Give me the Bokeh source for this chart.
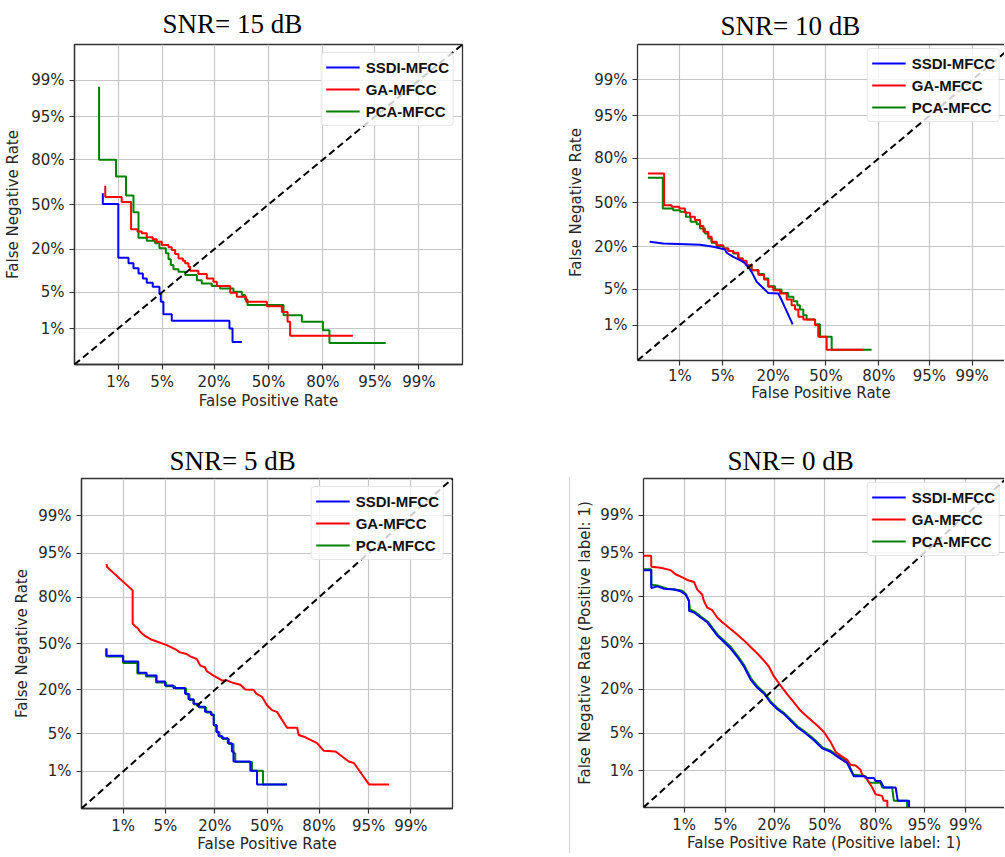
import math
from bokeh.plotting import figure
from bokeh.layouts import row, column, Spacer
from bokeh.models import FixedTicker, Legend, LegendItem, Slope, LinearAxis
from bokeh.embed import file_html
from bokeh.resources import INLINE

# ---------------- axis ticks (rates) ----------------
TICK_RATES = [0.01, 0.05, 0.20, 0.50, 0.80, 0.95, 0.99]
TICK_LABELS = ["1%", "5%", "20%", "50%", "80%", "95%", "99%"]

SERIES_NAMES = ["SSDI-MFCC", "GA-MFCC", "PCA-MFCC"]
SERIES_COLORS = ["#0000ff", "#ff0000", "#008000"]

# ---------------- SNR = 15 dB (staircase corners, %) ----------------
snr15_ssdi_fpr = [0.52, 1.01, 1.52, 1.84, 2.22, 2.6, 2.99, 3.67, 4.59, 4.79, 5.21, 6.73, 27.3, 28.9, 34.0]
snr15_ssdi_fnr = [58.4, 50.3, 15.9, 13.5, 11.6, 9.8, 8.3, 7.1, 6.15, 4.65, 3.41, 1.99, 1.46, 1.0, 0.50]
snr15_ga_fpr = [0.58, 1.16, 1.68, 2.13, 2.5, 2.99, 3.67, 4.2, 4.95, 6.1, 6.73, 7.44, 8.2, 9.26, 9.87,
                10.8, 11.3, 13.9, 17.0, 19.7, 21.2, 27.7, 31.2, 36.5, 49.0, 58.2, 61.6, 63.1, 90.4]
snr15_ga_fnr = [63.7, 55.5, 51.8, 32.1, 30.6, 29.5, 27.0, 25.7, 24.3, 22.4, 21.1, 19.7, 17.7, 15.6, 14.6,
                13.5, 12.2, 10.7, 9.6, 8.3, 7.4, 6.3, 4.9, 4.2, 3.41, 2.83, 2.2, 1.39, 0.69]
snr15_pca_fpr = [0.44, 0.92, 1.38, 1.84, 2.22, 2.99, 3.98, 4.59, 5.62, 6.1, 6.54, 7.08, 8.2, 9.87,
                 13.4, 15.1, 19.0, 22.7, 29.4, 34.0, 35.9, 37.3, 59.2, 69.7, 80.0, 82.7, 96.5]
snr15_pca_fnr = [98.63, 79.9, 70.1, 56.7, 44.3, 26.7, 24.9, 23.4, 20.6, 18.0, 15.2, 12.8, 11.2, 10.4,
                 9.3, 7.8, 6.95, 6.3, 5.78, 5.1, 4.47, 3.75, 2.96, 1.9, 1.39, 0.92, 0.47]

# ---------------- SNR = 10 dB ----------------
snr10_ssdi_fpr = [0.25, 0.48, 2.25, 3.65, 5.4, 5.7, 7.0, 9.4, 10.8, 11.8, 13.5, 17.9, 22.4, 24.0, 29.8]
snr10_ssdi_fnr = [22.8, 21.8, 21.1, 20.0, 18.6, 17.0, 15.1, 13.0, 11.1, 9.4, 6.6, 4.3, 4.2, 3.2, 1.03]
snr10_ga_fpr = [0.23, 0.50, 0.70, 0.98, 1.24, 1.52, 1.85, 2.25, 2.55, 3.05, 3.44, 4.09, 5.11, 6.0, 7.0,
                8.15, 9.24, 10.3, 11.8, 14.1, 16.2, 17.9, 20.1, 23.2, 26.6, 29.2, 31.1, 33.0, 35.9,
                43.1, 45.1, 50.4, 72.4]
snr10_ga_fnr = [70.9, 70.9, 48.0, 46.7, 45.5, 42.2, 39.3, 36.9, 32.7, 28.9, 25.7, 22.8, 20.9, 19.1, 17.9,
                17.0, 14.4, 13.4, 11.7, 9.94, 8.4, 7.2, 5.47, 4.8, 4.2, 3.27, 2.56, 2.11, 1.5,
                1.31, 0.99, 0.54, 0.26]
snr10_pca_fpr = [0.23, 0.47, 0.75, 1.01, 1.29, 1.56, 1.98, 2.25, 2.7, 3.05, 3.44, 4.09, 5.11, 6.0, 7.0,
                 8.15, 9.24, 10.3, 11.8, 14.1, 16.2, 17.9, 20.9, 24.0, 27.4, 30.2, 32.4, 33.9, 35.9,
                 37.9, 43.1, 46.2, 53.6, 76.6]
snr10_pca_fnr = [68.0, 68.0, 45.5, 44.2, 43.0, 39.3, 35.7, 34.0, 31.1, 27.8, 24.7, 22.2, 20.4, 19.1, 17.9,
                 16.6, 14.4, 13.0, 11.5, 9.94, 8.7, 7.45, 5.6, 4.93, 4.3, 3.66, 3.05, 2.56, 2.11,
                 1.62, 1.31, 1.04, 0.54, 0.26]

# ---------------- SNR = 5 dB ----------------
snr5_ssdi_fpr = [0.47, 1.0, 1.87, 2.58, 3.71, 4.95, 6.5, 9.26, 10.2, 11.7, 13.4, 15.8, 18.2, 19.4, 20.6,
                 21.6, 23.3, 26.3, 28.5, 29.4, 39.4, 43.6, 62.7]
snr5_ssdi_fnr = [46.4, 41.2, 37.1, 29.7, 28.0, 24.5, 22.3, 20.9, 18.1, 15.5, 13.7, 12.5, 10.7, 9.84, 6.9,
                 5.45, 4.64, 4.24, 3.49, 2.48, 1.6, 1.04, 0.52]
snr5_ga_fpr = [0.47, 0.49, 1.49, 1.49, 1.63, 1.87, 1.99, 2.42, 2.99, 5.24, 7.07, 8.0, 9.7, 10.7, 12.8,
               14.0, 15.8, 16.5, 19.4, 23.3, 25.8, 29.4, 33.3, 36.3, 41.4, 43.1, 46.8, 50.0, 53.2,
               56.4, 62.7, 68.7, 69.6, 73.3, 79.1, 82.1, 86.6, 90.7, 92.0, 95.05, 97.58]
snr5_ga_fnr = [92.6, 91.7, 83.3, 64.1, 62.5, 60.6, 58.6, 55.5, 53.1, 48.8, 45.5, 43.6, 42.4, 40.7, 38.9,
               34.4, 33.3, 30.7, 28.0, 25.1, 25.1, 23.6, 22.7, 20.2, 20.0, 18.1, 16.6, 13.1, 11.3,
               10.7, 6.29, 6.29, 4.82, 4.41, 3.49, 2.55, 2.48, 1.6, 1.49, 0.52, 0.52]
snr5_pca_fpr = [0.47, 1.0, 1.8, 2.51, 3.63, 5.12, 6.85, 9.53, 10.5, 11.9, 13.6, 16.3, 18.5, 19.6, 20.9,
                22.1, 23.8, 26.9, 29.4, 30.4, 40.4, 47.4, 62.7]
snr5_pca_fnr = [46.4, 40.7, 36.2, 29.3, 27.4, 23.9, 21.9, 20.6, 17.8, 15.2, 13.5, 12.2, 10.5, 9.64, 6.75,
                5.31, 4.52, 4.14, 3.4, 2.31, 1.56, 1.04, 0.52]

# ---------------- SNR = 0 dB ----------------
snr0_ssdi_fpr = [0.138, 0.204, 0.204, 0.28, 0.39, 0.626, 0.85, 1.06, 1.23, 1.23, 1.52, 1.99, 2.58, 3.12,
                 3.75, 4.75, 5.94, 7.35, 9.02, 10.95, 13.2, 15.65, 18.4, 21.5, 24.9, 28.5, 32.3, 36.4,
                 42.8, 48.2, 53.7, 58.1, 64.4, 68.4, 74.1, 75.8, 79.1, 79.9, 82.1, 83.5, 87.9, 88.6,
                 91.8, 91.8]
snr0_ssdi_fnr = [90.8, 90.8, 84.2, 84.9, 83.9, 83.5, 82.7, 81.2, 77.8, 72.1, 71.1, 67.9, 64.7, 60.1,
                 55.4, 50.7, 46.0, 40.1, 33.4, 25.2, 20.7, 17.9, 13.9, 11.4, 9.75, 7.85, 6.25, 5.22,
                 3.81, 2.73, 2.37, 1.91, 1.42, 0.755, 0.755, 0.695, 0.695, 0.59, 0.59, 0.42, 0.42, 0.20,
                 0.20, 0.136]
snr0_ga_fpr = [0.138, 0.204, 0.204, 0.33, 0.535, 0.675, 0.92, 1.14, 1.52, 1.74, 2.12, 2.27, 2.58, 3.12,
               3.75, 4.48, 5.94, 7.35, 9.02, 10.95, 13.2, 15.65, 17.7, 19.96, 23.2, 26.7, 30.4, 34.4,
               39.6, 44.95, 49.3, 53.7, 57.0, 60.2, 64.4, 66.4, 69.4, 72.2, 73.1, 75.8, 78.3, 79.9,
               82.8, 83.5, 84.9, 84.9]
snr0_ga_fnr = [94.4, 94.4, 91.8, 91.5, 90.8, 89.5, 88.4, 87.5, 86.7, 83.5, 81.2, 77.8, 74.1, 72.5,
               67.9, 64.7, 60.1, 56.2, 51.9, 47.1, 42.4, 37.4, 33.4, 27.1, 21.9, 17.4, 13.9, 10.8,
               8.49, 6.63, 5.22, 3.57, 2.37, 2.0, 1.65, 1.32, 1.28, 1.04, 0.82, 0.64, 0.42, 0.29,
               0.265, 0.20, 0.20, 0.136]
snr0_pca_fpr = [0.138, 0.204, 0.204, 0.28, 0.457, 0.675, 0.92, 1.09, 1.23, 1.28, 1.56, 2.04, 2.65, 3.2,
                3.84, 4.86, 6.07, 7.51, 9.2, 11.2, 13.4, 15.9, 18.7, 21.9, 25.2, 28.9, 32.7, 36.8,
                43.2, 48.7, 54.2, 58.5, 64.8, 68.0, 74.9, 76.7, 82.1, 82.8, 86.7, 87.3, 91.3, 91.3]
snr0_pca_fnr = [91.1, 91.1, 85.6, 85.3, 83.9, 83.5, 83.0, 81.2, 77.8, 73.1, 71.7, 68.4, 65.1, 60.6,
                55.9, 51.4, 46.7, 40.6, 33.8, 25.6, 21.2, 18.2, 14.1, 11.6, 9.96, 8.03, 6.4, 5.35,
                3.91, 2.81, 2.44, 1.97, 1.47, 0.82, 0.755, 0.54, 0.54, 0.42, 0.42, 0.20, 0.20, 0.136]


# ---------------- helpers ----------------
def ppf(p):
    """Inverse of the standard normal CDF (Acklam's approximation)."""
    a = [-3.969683028665376e+01, 2.209460984245205e+02, -2.759285104469687e+02,
         1.383577518672690e+02, -3.066479806614716e+01, 2.506628277459239e+00]
    b = [-5.447609879822406e+01, 1.615858368580409e+02, -1.556989798598866e+02,
         6.680131188771972e+01, -1.328068155288572e+01]
    c = [-7.784894002430293e-03, -3.223964580411365e-01, -2.400758277161838e+00,
         -2.549671361988130e+00, 4.374664141464968e+00, 2.938163982698783e+00]
    d = [7.784695709041462e-03, 3.224671290700398e-01, 2.445134137142996e+00,
         3.754408661907416e+00]
    plow = 0.02425
    if p < plow:
        q = math.sqrt(-2 * math.log(p))
        return (((((c[0]*q + c[1])*q + c[2])*q + c[3])*q + c[4])*q + c[5]) / \
               ((((d[0]*q + d[1])*q + d[2])*q + d[3])*q + 1)
    if p > 1 - plow:
        q = math.sqrt(-2 * math.log(1 - p))
        return -(((((c[0]*q + c[1])*q + c[2])*q + c[3])*q + c[4])*q + c[5]) / \
                ((((d[0]*q + d[1])*q + d[2])*q + d[3])*q + 1)
    q = p - 0.5
    r = q * q
    return (((((a[0]*r + a[1])*r + a[2])*r + a[3])*r + a[4])*r + a[5])*q / \
           (((((b[0]*r + b[1])*r + b[2])*r + b[3])*r + b[4])*r + 1)


def dev(percents):
    return [ppf(v / 100.0) for v in percents]


def staircase(xs, ys):
    px, py = [], []
    for i in range(len(xs)):
        px.append(xs[i]); py.append(ys[i])
        if i + 1 < len(xs):
            px.append(xs[i]); py.append(ys[i + 1])
    return px, py


TICKS = [round(ppf(r), 6) for r in TICK_RATES]
OVERRIDES = {t: l for t, l in zip(TICKS, TICK_LABELS)}

FRAME_COLOR = "#333333"
TEXT_COLOR = "#262626"
GRID_COLOR = "#c6c6c6"


def style_axis(ax, label, label_standoff, tick_standoff):
    ax.ticker = FixedTicker(ticks=TICKS)
    ax.major_label_overrides = OVERRIDES
    ax.axis_label = label
    ax.axis_label_text_font = "DejaVu Sans"
    ax.axis_label_text_font_size = "15px"
    ax.axis_label_text_font_style = "normal"
    ax.axis_label_text_color = TEXT_COLOR
    ax.axis_label_standoff = label_standoff
    ax.major_label_text_font = "DejaVu Sans"
    ax.major_label_text_font_size = "15px"
    ax.major_label_text_color = TEXT_COLOR
    ax.major_label_standoff = tick_standoff
    ax.major_tick_out = 5
    ax.major_tick_in = 0
    ax.major_tick_line_color = FRAME_COLOR
    ax.major_tick_line_width = 1.2
    ax.minor_tick_line_color = None
    ax.axis_line_color = FRAME_COLOR
    ax.axis_line_width = 1.3


def make_panel(spec):
    (title, curves, fw, fh, bl, br, bt, bb, x_end, t_off, t_stand,
     ylabel, xlabel, ylab_so, xlab_so, xtick_so, legend_margin, clipped) = spec
    p = figure(frame_width=fw, frame_height=fh, x_range=(-3, x_end), y_range=(-3, 3),
               output_backend="svg", toolbar_location=None,
               min_border_left=bl, min_border_right=br,
               min_border_top=bt, min_border_bottom=bb)
    p.background_fill_color = "white"
    p.border_fill_color = "white"

    p.title.text = title
    p.title.text_font = "Liberation Serif"
    p.title.text_font_size = "27px"
    p.title.text_font_style = "normal"
    p.title.text_color = "black"
    p.title.align = "left"
    p.title.offset = t_off
    p.title.standoff = t_stand

    style_axis(p.xaxis[0], xlabel, xlab_so, xtick_so)
    style_axis(p.yaxis[0], ylabel, ylab_so, 5)
    p.xgrid.ticker = FixedTicker(ticks=TICKS)
    p.ygrid.ticker = FixedTicker(ticks=TICKS)
    p.grid.grid_line_color = GRID_COLOR
    p.grid.grid_line_width = 1.2

    if clipped:
        # the right-hand edge of this panel is cut by the picture border
        p.outline_line_color = None
        top = LinearAxis(ticker=FixedTicker(ticks=[]), major_tick_out=0, major_tick_in=0,
                         minor_tick_out=0, minor_tick_in=0, major_label_standoff=0,
                         major_label_text_font_size="0px",
                         axis_line_color=FRAME_COLOR, axis_line_width=1.3)
        p.add_layout(top, "above")
    else:
        p.outline_line_color = FRAME_COLOR
        p.outline_line_width = 1.3

    # chance line FPR = FNR
    p.add_layout(Slope(gradient=1, y_intercept=0, line_color="black",
                       line_width=2, line_dash="7 4"))

    renderers = {}
    for name in ["PCA-MFCC", "GA-MFCC", "SSDI-MFCC"]:
        fpr, fnr, kind = curves[name]
        if kind == "step":
            xs, ys = staircase(fpr, fnr)
        else:
            xs, ys = fpr, fnr
        color = SERIES_COLORS[SERIES_NAMES.index(name)]
        renderers[name] = p.line(x=dev(xs), y=dev(ys), line_color=color, line_width=2)

    legend = Legend(items=[LegendItem(label=n, renderers=[renderers[n]]) for n in SERIES_NAMES],
                    location="top_right")
    legend.label_text_font = "Liberation Sans"
    legend.label_text_font_style = "bold"
    legend.label_text_font_size = "15px"
    legend.label_text_color = "#111111"
    legend.glyph_width = 34
    legend.glyph_height = 20
    legend.label_height = 20
    legend.label_standoff = 6
    legend.padding = 4
    legend.spacing = 2
    legend.margin = legend_margin
    legend.border_line_color = "#cccccc"
    legend.border_line_width = 1
    legend.background_fill_color = "white"
    legend.background_fill_alpha = 0.8
    if "border_radius" in Legend.properties():
        legend.border_radius = 4
    p.add_layout(legend)
    return p


curves15 = {"SSDI-MFCC": (snr15_ssdi_fpr, snr15_ssdi_fnr, "step"),
            "GA-MFCC": (snr15_ga_fpr, snr15_ga_fnr, "step"),
            "PCA-MFCC": (snr15_pca_fpr, snr15_pca_fnr, "step")}
curves10 = {"SSDI-MFCC": (snr10_ssdi_fpr, snr10_ssdi_fnr, "line"),
            "GA-MFCC": (snr10_ga_fpr, snr10_ga_fnr, "step"),
            "PCA-MFCC": (snr10_pca_fpr, snr10_pca_fnr, "step")}
curves5 = {"SSDI-MFCC": (snr5_ssdi_fpr, snr5_ssdi_fnr, "step"),
           "GA-MFCC": (snr5_ga_fpr, snr5_ga_fnr, "line"),
           "PCA-MFCC": (snr5_pca_fpr, snr5_pca_fnr, "step")}
curves0 = {"SSDI-MFCC": (snr0_ssdi_fpr, snr0_ssdi_fnr, "line"),
           "GA-MFCC": (snr0_ga_fpr, snr0_ga_fnr, "line"),
           "PCA-MFCC": (snr0_pca_fpr, snr0_pca_fnr, "line")}

# spec: title, curves, frame w, frame h, borders l/r/t/b, x end, title offset, title standoff,
#       y label, x label, y-label standoff, x-label standoff, x-tick standoff, legend margin, clipped
p1 = make_panel(("SNR= 15 dB", curves15, 388, 320, 74, 8, 44, 49, 3.0, 88, 12,
                 "False Negative Rate", "False Positive Rate", 6, -2, 3, 8, False))
p2 = make_panel(("SNR= 10 dB", curves10, 367, 316, 74, 0, 37, 60, 2.841, 83, 7,
                 "False Negative Rate", "False Positive Rate", 6, -4, 1, 4, True))
p3 = make_panel(("SNR= 5 dB", curves5, 371, 330, 74, 8, 62, 48, 3.0, 88, 5,
                 "False Negative Rate", "False Positive Rate", 4, -3, 3, 8, False))
p4 = make_panel(("SNR= 0 dB", curves0, 361, 329, 73, 0, 63, 48, 2.970, 84, 5,
                 "False Negative Rate (Positive label: 1)",
                 "False Positive Rate (Positive label: 1)", 3, -3, 3, 4, True))

# thin grey edge of the pasted bottom-right panel (a 1px vertical rule)
edge = Spacer(width=110, height=438,
              styles={"background-image": "linear-gradient(#d2d2d2, #d2d2d2)",
                      "background-repeat": "no-repeat",
                      "background-size": "1px 376px",
                      "background-position": "109px 62px"})

layout = column(
    row(p1, Spacer(width=93, height=10), p2),
    row(Spacer(width=7, height=10), p3, edge, p4),
)

open("out.html", "w").write(file_html(layout, INLINE))
